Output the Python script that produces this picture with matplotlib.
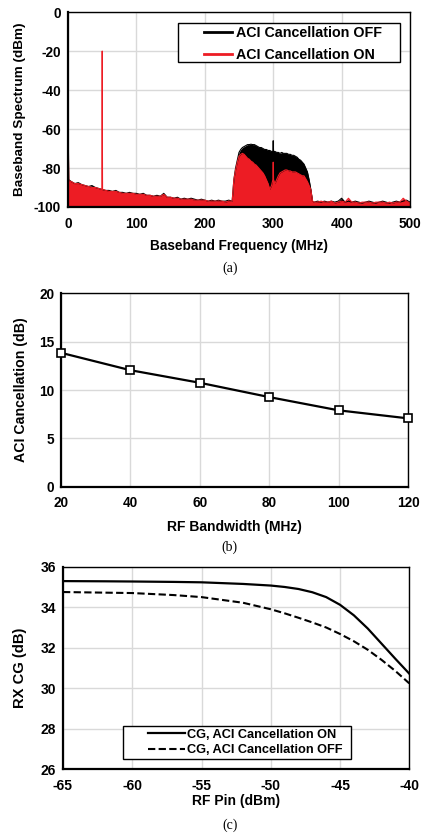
import matplotlib
matplotlib.use("Agg")
import matplotlib.pyplot as plt
from matplotlib.lines import Line2D
from matplotlib.patches import Rectangle
import numpy as np

plt.rcParams['font.family'] = ['Liberation Sans', 'DejaVu Sans']
plt.rcParams['font.weight'] = 'bold'
plt.rcParams['axes.unicode_minus'] = False

# ---------------- Panel (a) data: baseband spectrum ----------------
freq_low = [0, 1, 5, 10, 15, 20, 25, 30, 35, 40, 45, 49.5, 50, 50.5, 55, 60, 65, 70, 75, 80,
            85, 90, 95, 100, 105, 110, 115, 120, 125, 130, 135, 140, 145, 150, 155, 160,
            165, 170, 175, 180, 185, 190, 195, 200, 205, 210, 215, 220, 225, 230, 235, 240]
off_low = [-43, -86, -87, -88, -87.5, -88.5, -89, -89.5, -89, -90, -90.5, -91, -91, -91, -91.5,
           -91.5, -92, -91.5, -92.5, -92.5, -93, -92.5, -93, -93, -93.5, -93, -94, -94,
           -94.5, -94, -94.5, -93, -95, -95, -95.5, -95, -96, -95.5, -96, -95.5, -96, -96.5,
           -96, -96.5, -97, -96.5, -97, -96.5, -97, -97, -96.5, -97]
on_low = [-43, -86.5, -87, -88, -88, -88.5, -89, -89.5, -90, -90, -90.5, -91, -20, -91, -91.5,
          -92, -92, -92, -92.5, -93, -93, -93, -93, -93.5, -93.5, -93.5, -94, -94, -94.5,
          -94.5, -94.5, -93.5, -95, -95, -95.5, -95.5, -96, -96, -96, -96, -96.5, -96.5,
          -96.5, -96.5, -97, -97, -97, -97, -97, -97.5, -97, -97]

freq_band = [242.5, 245, 247.5, 250, 252.5, 255, 257.5, 260, 262.5, 265, 267.5, 270, 272.5,
             275, 277.5, 280, 282.5, 285, 287.5, 290, 292.5, 295, 297.5, 299.5, 300, 300.5,
             302.5, 305, 307.5, 310, 312.5, 315, 317.5, 320, 322.5, 325, 327.5, 330, 332.5,
             335, 337.5, 340, 342.5, 345, 347.5, 350, 352.5, 355, 357.5]
off_band = [-86, -80, -76, -72, -70.5, -69.5, -69, -68.5, -68, -68, -67.8, -68, -68, -68.5,
            -69, -69.5, -69.5, -70, -70.5, -70.5, -71, -71, -71.5, -71.5, -66, -71.5, -71.5,
            -72, -72, -72.5, -72, -72.5, -72.5, -72.5, -73, -73, -73.5, -73.5, -74, -74.5,
            -75.5, -76, -77, -78, -80, -82, -86, -91, -97]
on_band = [-86, -81, -77, -74, -73, -72.5, -73, -74, -75, -75.5, -76.5, -77, -78, -78.5,
           -79.5, -80.5, -81.5, -82.5, -84, -86, -88, -91, -89, -86, -77, -86, -88, -86, -84,
           -82.5, -82, -81.5, -81, -81, -81.5, -81.5, -82, -82, -82, -82.5, -83, -83.5, -84,
           -84, -85.5, -87, -89, -91, -97]

freq_high = [360, 365, 370, 375, 380, 385, 390, 395, 400, 405, 410, 415, 420, 425, 430, 435,
             440, 445, 450, 455, 460, 465, 470, 475, 480, 485, 490, 495, 500]
off_high = [-97.5, -97, -97.5, -97, -97.5, -97, -97.5, -97, -95.5, -97.5, -97, -97.5, -97,
            -97.5, -98, -97.5, -97, -97.5, -98, -97.5, -97, -97.5, -98, -97.5, -97, -97.5,
            -97, -96.5, -97.5]
on_high = [-97.5, -97.5, -97, -97.5, -97.5, -97, -98, -97.5, -97, -97.5, -95.5, -97.5, -97.5,
           -98, -97.5, -97.5, -97.5, -98, -97.5, -97.5, -97.5, -98, -97.5, -98, -97.5, -97.5,
           -95.5, -97, -98]

spec_freq = freq_low + freq_band + freq_high
spec_off = off_low + off_band + off_high
spec_on = on_low + on_band + on_high

# ---------------- Panel (b) data ----------------
bw = [20, 40, 60, 80, 100, 120]
aci_canc = [13.85, 12.05, 10.75, 9.27, 7.9, 7.07]

# ---------------- Panel (c) data ----------------
pin = [-65, -62, -60, -57, -55, -52, -50, -49, -48, -47, -46, -45, -44, -43, -42, -41, -40]
cg_on = [35.29, 35.28, 35.27, 35.25, 35.23, 35.15, 35.07, 35.0, 34.9, 34.74, 34.5, 34.12,
         33.6, 32.95, 32.2, 31.45, 30.72]
cg_off = [34.75, 34.72, 34.7, 34.6, 34.5, 34.22, 33.9, 33.7, 33.48, 33.25, 33.0, 32.68,
          32.32, 31.9, 31.4, 30.85, 30.24]

RED = '#ED1C24'
GRID = '#D9D9D9'

fig = plt.figure(figsize=(4.21, 8.35), dpi=100)


def style(ax, fs, pad):
    ax.grid(True, color=GRID, linewidth=1.0)
    ax.set_axisbelow(True)
    for s in ax.spines.values():
        s.set_color('black')
        s.set_linewidth(1.0)
    ax.spines['left'].set_linewidth(1.6)
    ax.spines['bottom'].set_linewidth(1.6)
    ax.tick_params(length=0, labelsize=fs)
    ax.tick_params(axis='x', pad=pad)
    ax.tick_params(axis='y', pad=5)
    for t in ax.get_xticklabels() + ax.get_yticklabels():
        t.set_fontweight('bold')


def legend_box(ax, x0, y0, x1, y1):
    ax.add_patch(Rectangle((x0, y0), x1 - x0, y1 - y0, transform=ax.transAxes,
                           facecolor='white', edgecolor='black', linewidth=1.0, zorder=6,
                           clip_on=False))


# Panel (a)
ax1 = fig.add_axes([0.1615, 0.7521, 0.8124, 0.2335])
f = np.array(spec_freq)
ax1.fill_between(f, -100, spec_off, color='black', linewidth=0)
ax1.plot(f, spec_off, color='black', linewidth=0.8)
ax1.fill_between(f, -100, spec_on, color=RED, linewidth=0)
ax1.plot(f, spec_on, color=RED, linewidth=0.8)
ax1.set_xlim(0, 500)
ax1.set_ylim(-100, 0)
ax1.set_xticks([0, 100, 200, 300, 400, 500])
ax1.set_yticks([-100, -80, -60, -40, -20, 0])
style(ax1, 9.8, 7)
ax1.set_xlabel('Baseband Frequency (MHz)', fontsize=9.8, fontweight='bold', labelpad=6)
ax1.set_ylabel('Baseband Spectrum (dBm)', fontsize=9.7, fontweight='bold', labelpad=5.5)
legend_box(ax1, 0.3216, 0.7436, 0.9708, 0.9436)
h = [Line2D([], [], color='black', lw=2), Line2D([], [], color=RED, lw=2)]
leg = ax1.legend(h, ['ACI Cancellation OFF', 'ACI Cancellation ON'], loc='center left',
                 bbox_to_anchor=(0.3977, 0.836), prop={'weight': 'bold', 'size': 10.3},
                 frameon=False, handlelength=1.96, handletextpad=0.28, borderpad=0,
                 labelspacing=0.5, borderaxespad=0)
leg.set_zorder(7)
fig.text(0.546, 1 - 268 / 835, '(a)', ha='center', va='center', fontsize=10,
         family='Liberation Serif', fontweight='normal')

# Panel (b)
ax2 = fig.add_axes([0.1449, 0.4171, 0.8242, 0.2316])
ax2.plot(bw, aci_canc, color='black', linewidth=1.6, marker='s', markersize=5.5,
         markerfacecolor='white', markeredgecolor='black', markeredgewidth=1.2, clip_on=False,
         zorder=5)
ax2.set_xlim(20, 120)
ax2.set_ylim(0, 20)
ax2.set_xticks(bw)
ax2.set_yticks([0, 5, 10, 15, 20])
style(ax2, 9.8, 7)
ax2.set_xlabel('RF Bandwidth (MHz)', fontsize=10, fontweight='bold', labelpad=7)
ax2.set_ylabel('ACI Cancellation (dB)', fontsize=10.2, fontweight='bold', labelpad=7.5)
fig.text(0.546, 1 - 547 / 835, '(b)', ha='center', va='center', fontsize=10,
         family='Liberation Serif', fontweight='normal')

# Panel (c)
ax3 = fig.add_axes([0.1496, 0.0787, 0.8226, 0.2426])
ax3.plot(pin, cg_on, color='black', linewidth=1.6, label='CG, ACI Cancellation ON')
ax3.plot(pin, cg_off, color='black', linewidth=1.5, linestyle=(0, (3.5, 1.6)),
         label='CG, ACI Cancellation OFF')
ax3.set_xlim(-65, -40)
ax3.set_ylim(26, 36)
ax3.set_xticks([-65, -60, -55, -50, -45, -40])
ax3.set_yticks([26, 28, 30, 32, 34, 36])
style(ax3, 10, 7)
ax3.set_xlabel('RF Pin (dBm)', fontsize=10, fontweight='bold', labelpad=0.5)
ax3.set_ylabel('RX CG (dB)', fontsize=10.6, fontweight='bold', labelpad=9.5)
legend_box(ax3, 0.1733, 0.0503, 0.832, 0.2137)
leg3 = ax3.legend(loc='center left', bbox_to_anchor=(0.2455, 0.1328),
                  prop={'weight': 'bold', 'size': 9.2}, frameon=False, handlelength=2.9,
                  handletextpad=0.15, borderpad=0, labelspacing=0.27, borderaxespad=0)
leg3.set_zorder(7)
fig.text(0.546, 1 - 825 / 835, '(c)', ha='center', va='center', fontsize=10,
         family='Liberation Serif', fontweight='normal')

fig.savefig('out.png', dpi=100)
